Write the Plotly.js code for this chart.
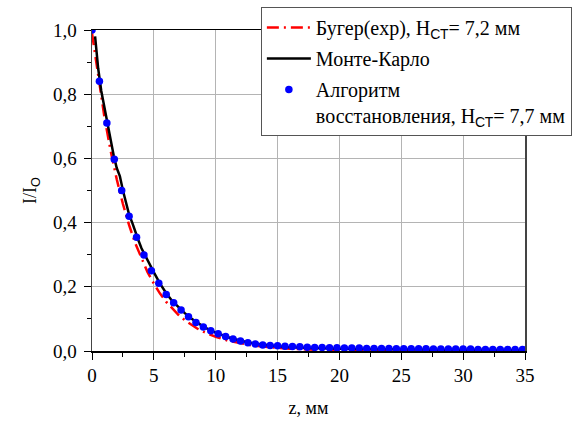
<!DOCTYPE html>
<html>
<head>
<meta charset="utf-8">
<script src="https://cdn.plot.ly/plotly-3.0.1.min.js"></script>
<style>html,body{margin:0;padding:0;background:#fff;}#chart{width:583px;height:423px;}</style>
</head>
<body>
<div id="chart"></div>
<script>
// Бугер (exp), H_СТ = 7,2 мм
const bugerZ = [0, 0.5, 1.0, 1.5, 2.0, 2.5, 3.0, 3.5, 4.0, 4.5, 5.0, 5.5, 6.0, 6.5, 7.0, 7.5, 8.0, 8.5, 9.0, 9.5, 10, 11, 12, 13, 14, 15, 16, 18, 20, 25, 30, 35];
const bugerY = [0.99, 0.855, 0.73, 0.625, 0.535, 0.458, 0.392, 0.335, 0.287, 0.245, 0.21, 0.179, 0.153, 0.131, 0.112, 0.096, 0.082, 0.070, 0.060, 0.051, 0.044, 0.032, 0.024, 0.017, 0.013, 0.009, 0.007, 0.004, 0.002, 0.0004, 0.0001, 0.0];

// Монте-Карло
const mcZ = [0.25, 0.5, 0.75, 1.0, 1.25, 1.5, 1.75, 2.0, 2.25, 2.5, 2.75, 3.0, 3.25, 3.5, 3.75, 4.0, 4.5, 5.0, 5.5, 6.0, 6.5, 7.0, 7.5, 8.0, 8.5, 9.0, 9.5, 10, 11, 12, 13, 14, 15, 16, 17, 18, 20, 22, 25, 28, 31, 35];
const mcY = [0.98, 0.88, 0.81, 0.76, 0.70, 0.65, 0.61, 0.57, 0.545, 0.50, 0.46, 0.425, 0.40, 0.37, 0.345, 0.32, 0.28, 0.245, 0.21, 0.18, 0.155, 0.135, 0.118, 0.102, 0.088, 0.076, 0.066, 0.057, 0.043, 0.032, 0.024, 0.019, 0.015, 0.012, 0.010, 0.009, 0.007, 0.006, 0.005, 0.004, 0.004, 0.003];

// Алгоритм восстановления, H_СТ = 7,7 мм
const algZ = [0, 0.6, 1.2, 1.8, 2.4, 3.0, 3.6, 4.2, 4.8, 5.4, 6.0, 6.6, 7.2, 7.8, 8.4, 9.0, 9.6, 10.2, 10.8, 11.4, 12.0, 12.6, 13.2, 13.8, 14.4, 15.0, 15.6, 16.2, 16.8, 17.4, 18.0, 18.6, 19.2, 19.8, 20.4, 21.0, 21.6, 22.2, 22.8, 23.4, 24.0, 24.6, 25.2, 25.8, 26.4, 27.0, 27.6, 28.2, 28.8, 29.4, 30.0, 30.6, 31.2, 31.8, 32.4, 33.0, 33.6, 34.2, 34.8];
const algY = [1.0, 0.84, 0.71, 0.597, 0.50, 0.42, 0.354, 0.299, 0.25, 0.211, 0.176, 0.150, 0.128, 0.107, 0.089, 0.075, 0.063, 0.054, 0.045, 0.037, 0.031, 0.026, 0.022, 0.019, 0.017, 0.016, 0.015, 0.014, 0.013, 0.012, 0.011, 0.011, 0.010, 0.010, 0.009, 0.009, 0.009, 0.008, 0.008, 0.008, 0.008, 0.007, 0.007, 0.007, 0.007, 0.007, 0.006, 0.006, 0.006, 0.006, 0.006, 0.006, 0.005, 0.005, 0.005, 0.005, 0.005, 0.005, 0.005];

const xTicks = [0, 5, 10, 15, 20, 25, 30, 35];
const yTicks = [0, 0.2, 0.4, 0.6, 0.8, 1.0];
const yTickText = ['0,0', '0,2', '0,4', '0,6', '0,8', '1,0'];

const SERIF = 'Liberation Serif, Times New Roman, serif';
const SANS = 'Liberation Sans';
const sub = t => '<sub><span style="font-family:' + SANS + '">' + t + '</span></sub>';

const traces = [
  {x: bugerZ, y: bugerY, type: 'scatter', mode: 'lines', legendgroup: 'a',
   name: 'Бугер(exp), H' + sub('СТ') + '= 7,2 мм',
   line: {color: '#ff0000', width: 2.5, dash: '12px,5px,2px,5px'}},
  {x: mcZ, y: mcY, type: 'scatter', mode: 'lines', legendgroup: 'b',
   name: 'Монте-Карло',
   line: {color: '#000000', width: 2.5}},
  {x: algZ, y: algY, type: 'scatter', mode: 'markers', legendgroup: 'c',
   name: 'Алгоритм<br>восстановления, H' + sub('СТ') + '= 7,7 мм',
   marker: {color: '#0000ff', size: 7.5}, cliponaxis: true}
];

const layout = {
  width: 583, height: 423,
  margin: {l: 92, r: 58, t: 30, b: 72, autoexpand: false},
  paper_bgcolor: '#fff', plot_bgcolor: '#fff',
  font: {family: SERIF, size: 19, color: '#000'},
  separators: ', ',
  showlegend: true,
  legend: {
    x: 0.39, y: 1.072, xanchor: 'left', yanchor: 'top',
    bgcolor: '#fff', bordercolor: '#555', borderwidth: 1,
    font: {family: SERIF, size: 20, color: '#000'},
    itemwidth: 44, tracegroupgap: 2, valign: 'top'
  },
  xaxis: {
    range: [0, 35], tickvals: xTicks, ticktext: xTicks.map(String),
    tickfont: {family: SERIF, size: 19},
    ticks: 'outside', ticklen: 7, tickwidth: 1, tickcolor: '#000',
    showline: true, linecolor: '#000', linewidth: 1.5, mirror: true,
    showgrid: true, gridcolor: '#b4b4b4', gridwidth: 1, zeroline: false,
    minor: {dtick: 2.5, tick0: 0, ticks: 'outside', ticklen: 4, tickwidth: 1, tickcolor: '#000', showgrid: false},
    title: {text: 'z, мм', font: {family: SERIF, size: 18}, standoff: 16}
  },
  yaxis: {
    range: [0, 1.0], tickvals: yTicks, ticktext: yTickText,
    tickfont: {family: SERIF, size: 19},
    ticks: 'outside', ticklen: 7, tickwidth: 1, tickcolor: '#000',
    showline: true, linecolor: '#444', linewidth: 1.5, mirror: true,
    showgrid: true, gridcolor: '#b4b4b4', gridwidth: 1, zeroline: false,
    ticklabelstandoff: 3,
    minor: {dtick: 0.1, tick0: 0, ticks: 'outside', ticklen: 4, tickwidth: 1, tickcolor: '#000', showgrid: false},
    title: {text: 'I/I' + sub('O'), font: {family: SERIF, size: 18}, standoff: 11}
  }
};

Plotly.newPlot('chart', traces, layout, {displayModeBar: false, staticPlot: true});
</script>
</body>
</html>
